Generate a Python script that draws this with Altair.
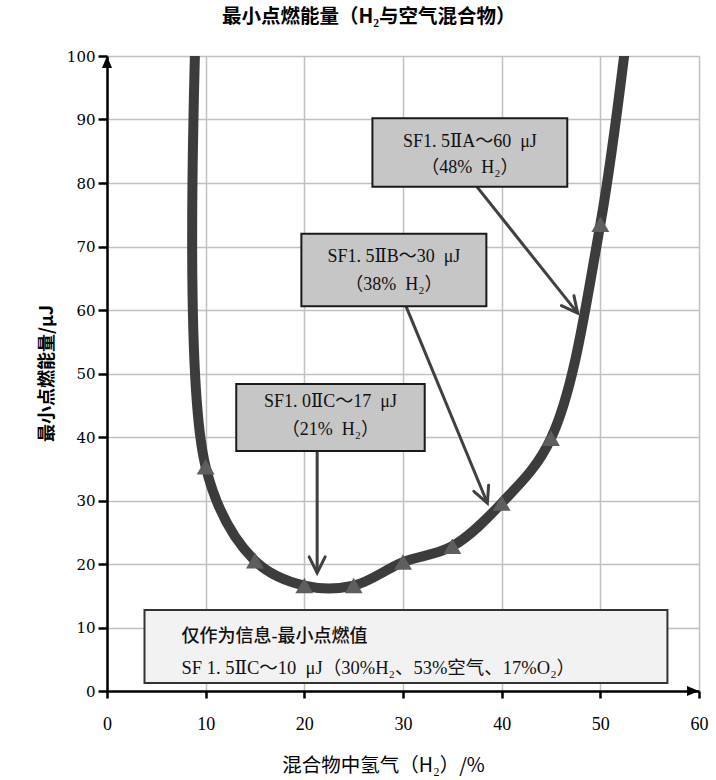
import math
import altair as alt
import pandas as pd

# Minimum ignition energy of hydrogen/air mixtures
h2_pct = [9.5, 10, 15, 20, 25, 30, 35, 40, 45, 50, 54.5]
mie_uj = [125, 35.3, 20.5, 16.6, 16.6, 20.3, 22.8, 29.6, 39.8, 73.5, 128]

x_ticks = [0, 10, 20, 30, 40, 50, 60]
y_ticks = [0, 10, 20, 30, 40, 50, 60, 70, 80, 90, 100]

# Callouts: box extents, two text lines, arrow from box to curve
call_line1 = ["SF1. 5ⅡA～60\u2002μJ", "SF1. 5ⅡB～30\u2002μJ", "SF1. 0ⅡC～17\u2002μJ"]
call_line2 = ["（48%\u2002H₂）", "（38%\u2002H₂）", "（21%\u2002H₂）"]
call_x1 = [26.9, 19.7, 13.1]
call_x2 = [46.65, 38.45, 32.2]
call_y1 = [79.4, 60.6, 37.8]
call_y2 = [90.2, 72.0, 48.35]
call_text_y1 = [86.4, 68.3, 45.5]
call_text_y2 = [82.4, 63.9, 41.1]
arrow_x = [37.5, 30.3, 21.3]
arrow_y = [79.4, 60.6, 37.8]
tip_x = [47.7, 38.55, 21.3]
tip_y = [59.5, 29.6, 18.6]

# Informational note at the bottom
note_head = ["仅作为信息-最小点燃值"]
note_body = ["SF 1. 5ⅡC～10\u2002μJ（30%H₂、53%空气、17%O₂）"]
note_text_x = 7.55
note_head_y = 8.5
note_body_y = 3.6
note_box = {"x": 3.8, "x2": 56.8, "y": 1.26, "y2": 12.75}

W, H = 592, 635
PX_X, PX_Y = W / 60.0, H / 100.0

SERIF = "Liberation Serif, DejaVu Serif, Noto Sans CJK SC"
CJK = "Noto Sans CJK SC"

xs = alt.Scale(domain=[0, 60], nice=False)
ys = alt.Scale(domain=[0, 100], nice=False)

curve_df = pd.DataFrame({"h2": h2_pct, "mie": mie_uj})

calls = pd.DataFrame({
    "x1": call_x1, "x2": call_x2, "y1": call_y1, "y2": call_y2,
    "tx": [(a + b) / 2 for a, b in zip(call_x1, call_x2)],
    "ty1": call_text_y1, "ty2": call_text_y2,
    "l1": call_line1, "l2": call_line2,
})

arrows = pd.DataFrame({"x": arrow_x, "y": arrow_y, "tx": tip_x, "ty": tip_y})
arrows["angle"] = [
    math.degrees(math.atan2((bx - ax) * PX_X, (by - ay) * PX_Y)) % 360
    for ax, ay, bx, by in zip(arrow_x, arrow_y, tip_x, tip_y)
]

note_df = pd.DataFrame([note_box])
head_df = pd.DataFrame({"x": [note_text_x], "y": [note_head_y], "t": note_head})
body_df = pd.DataFrame({"x": [note_text_x], "y": [note_body_y], "t": note_body})

x_axis = alt.Axis(values=x_ticks, grid=True, gridColor="#c0c0c0", gridWidth=1.5,
                  domainColor="black", domainWidth=2.5, tickColor="black",
                  tickWidth=2.5, tickSize=7, labelFont="Liberation Serif",
                  labelFontSize=18, labelColor="black", labelPadding=17,
                  labelFlush=False, labelOverlap=False,
                  title="混合物中氢气（H₂）/%", titleFont=CJK, titleFontSize=19.5,
                  titleFontWeight="normal", titleColor="black",
                  titleX=276, titleY=74, titleBaseline="middle", titleAlign="center")
y_axis = alt.Axis(values=y_ticks, grid=True, gridColor="#c0c0c0", gridWidth=1.5,
                  domainColor="black", domainWidth=2.5, tickColor="black",
                  tickWidth=2.5, tickSize=9, labelFont="DejaVu Serif",
                  labelFontSize=15, labelColor="black", labelPadding=3,
                  labelFlush=False, labelOverlap=False,
                  title="最小点燃能量/μJ", titleFont=CJK, titleFontSize=18,
                  titleFontWeight="bold", titleColor="black",
                  titleX=-60, titleY=317, titleAngle=270,
                  titleBaseline="middle", titleAlign="center")

base_curve = alt.Chart(curve_df)

line = base_curve.mark_line(interpolate="catmull-rom", clip=True, color="#3c3c3c",
                            strokeWidth=10).encode(
    x=alt.X("h2:Q", scale=xs, axis=x_axis),
    y=alt.Y("mie:Q", scale=ys, axis=y_axis),
)

markers = base_curve.mark_point(shape="triangle-up", filled=True, clip=True,
                                color="#5e5e5e", size=320, opacity=1).encode(
    x="h2:Q", y="mie:Q")

boxes = alt.Chart(calls).mark_rect(fill="#c6c6c6", stroke="#1a1a1a",
                                   strokeWidth=2).encode(
    x="x1:Q", x2="x2:Q", y="y1:Q", y2="y2:Q")
text1 = alt.Chart(calls).mark_text(font=SERIF, fontSize=18, color="#111111",
                                   align="center", baseline="middle").encode(
    x="tx:Q", y="ty1:Q", text="l1:N")
text2 = alt.Chart(calls).mark_text(font=SERIF, fontSize=18, color="#111111",
                                   align="center", baseline="middle").encode(
    x="tx:Q", y="ty2:Q", text="l2:N")

arrow_lines = alt.Chart(arrows).mark_rule(color="#404040", strokeWidth=3).encode(
    x="x:Q", y="y:Q", x2="tx:Q", y2="ty:Q")
arrow_heads = alt.Chart(arrows).mark_point(
    shape="M-0.5,1L0,0L0.5,1", filled=False, color="#404040", strokeWidth=3,
    size=1024, opacity=1, strokeCap="round", strokeJoin="miter").encode(
    x="tx:Q", y="ty:Q", angle=alt.Angle("angle:Q", scale=None))

note_rect = alt.Chart(note_df).mark_rect(fill="#f2f2f2", stroke="#333333",
                                         strokeWidth=2).encode(
    x="x:Q", x2="x2:Q", y="y:Q", y2="y2:Q")
note_head_text = alt.Chart(head_df).mark_text(
    font=SERIF, fontSize=18, fontWeight=500, color="#111111",
    align="left", baseline="middle").encode(x="x:Q", y="y:Q", text="t:N")
note_body_text = alt.Chart(body_df).mark_text(
    font=SERIF, fontSize=18.5, color="#111111",
    align="left", baseline="middle").encode(x="x:Q", y="y:Q", text="t:N")

# Arrowheads on the axis ends
y_tip = pd.DataFrame({"x": [0], "y": [100]})
x_tip = pd.DataFrame({"x": [60], "y": [0]})
y_arrow = alt.Chart(y_tip).mark_point(
    shape="M0,0L-0.42,1L0.42,1Z", filled=True, color="black", size=576,
    opacity=1, strokeWidth=0).encode(x="x:Q", y="y:Q")
x_arrow = alt.Chart(x_tip).mark_point(
    shape="M0,0L-1,-0.42L-1,0.42Z", filled=True, color="black", size=576,
    opacity=1, strokeWidth=0).encode(x="x:Q", y="y:Q")

chart = alt.layer(
    note_rect, note_head_text, note_body_text, line, markers, arrow_lines,
    arrow_heads, boxes, text1, text2, y_arrow, x_arrow,
).properties(
    width=W, height=H,
    title=alt.TitleParams("最小点燃能量（H₂与空气混合物）", anchor="start",
                          frame="group", dx=115, offset=22, font=CJK,
                          fontSize=19.5, fontWeight="bold", color="black"),
    padding={"left": 107, "top": 56, "right": 17, "bottom": 89},
    autosize=alt.AutoSizeParams(type="none"),
).configure_view(stroke=None).configure(background="white")

chart.save("out.html", embed_options={"renderer": "svg", "actions": False})
